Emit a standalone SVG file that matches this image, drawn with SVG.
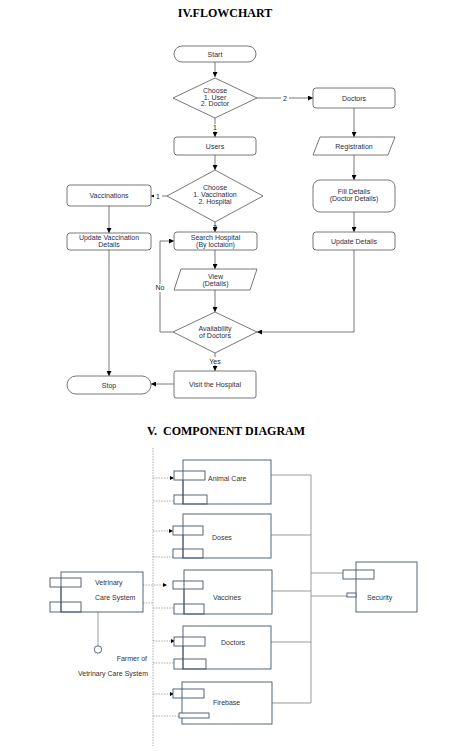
<svg xmlns="http://www.w3.org/2000/svg" width="463" height="751" viewBox="0 0 463 751">
<style>
.title{font-family:"Liberation Serif",serif;font-weight:bold;font-size:12px;fill:#000}
.fs{fill:#fff;stroke:#555;stroke-width:0.8}
.ft{font-family:"Liberation Sans",Arial,sans-serif;font-size:7px;fill:#1f2d4d;text-anchor:middle}
.fl{fill:none;stroke:#555;stroke-width:0.8}
.lbl{font-family:"Liberation Sans",Arial,sans-serif;font-size:7px;fill:#222;text-anchor:middle}
.cb{fill:#fff;stroke:#44546a;stroke-width:0.9}
.cn{fill:none;stroke:#44546a;stroke-width:0.9}
.ct{font-family:"Liberation Sans",Arial,sans-serif;font-size:7px;fill:#333}
.dot{fill:none;stroke:#888;stroke-width:0.7;stroke-dasharray:1.5,1.2}
.sl{fill:none;stroke:#9a9a9a;stroke-width:1}
</style>
<defs>
<marker id="ah" viewBox="0 0 6 6" refX="6" refY="3" markerWidth="5" markerHeight="5" orient="auto" markerUnits="userSpaceOnUse">
<path d="M0,0 L6,3 L0,6 z" fill="#000"/>
</marker>
<marker id="ah2" viewBox="0 0 6 6" refX="6" refY="3" markerWidth="4" markerHeight="4" orient="auto" markerUnits="userSpaceOnUse">
<path d="M0,0 L6,3 L0,6 z" fill="#000"/>
</marker>
</defs>
<rect width="463" height="751" fill="#fff"/>

<text class="title" x="225" y="17" text-anchor="middle">IV.FLOWCHART</text>

<g id="connectors">
<path class="fl" d="M215,62 V77" marker-end="url(#ah)"/>
<path class="fl" d="M257,98 H313" marker-end="url(#ah)"/>
<path class="fl" d="M215,118 V137" marker-end="url(#ah)"/>
<path class="fl" d="M215,155 V170" marker-end="url(#ah)"/>
<path class="fl" d="M167,196 H151" marker-end="url(#ah)"/>
<path class="fl" d="M215,222 V232" marker-end="url(#ah)"/>
<path class="fl" d="M109,206 V233" marker-end="url(#ah)"/>
<path class="fl" d="M109,250 V376" marker-end="url(#ah)"/>
<path class="fl" d="M215,250 V269" marker-end="url(#ah)"/>
<path class="fl" d="M215,290 V312" marker-end="url(#ah)"/>
<path class="fl" d="M354,108 V137" marker-end="url(#ah)"/>
<path class="fl" d="M354,155 V180" marker-end="url(#ah)"/>
<path class="fl" d="M354,212 V232" marker-end="url(#ah)"/>
<path class="fl" d="M354,250 V332 H257" marker-end="url(#ah)"/>
<path class="fl" d="M173,332 H160 V241 H174" marker-end="url(#ah)"/>
<path class="fl" d="M215,353 V371" marker-end="url(#ah)"/>
<path class="fl" d="M174,384 H151" marker-end="url(#ah)"/>
<rect x="281" y="94" width="8" height="8" fill="#fff"/>
<text class="lbl" x="285" y="100.5">2</text>
<rect x="211" y="124" width="8" height="7" fill="#fff"/>
<text class="lbl" x="215" y="130">1</text>
<rect x="154" y="192" width="8" height="8" fill="#fff"/>
<text class="lbl" x="158" y="198.5">1</text>
<text class="lbl" x="215" y="229.5">2</text>
<rect x="153" y="284" width="14" height="8" fill="#fff"/>
<text class="lbl" x="160" y="290">No</text>
<rect x="206" y="357" width="18" height="8" fill="#fff"/>
<text class="lbl" x="215" y="364">Yes</text>

<path class="dot" d="M153,448 V746"/>
<path class="dot" d="M153,478 H174" marker-end="url(#ah2)"/>
<path class="dot" d="M153,501 H174"/>
<path class="dot" d="M153,531 H173" marker-end="url(#ah2)"/>
<path class="dot" d="M153,557 H173"/>
<path class="dot" d="M143,585 H167" marker-end="url(#ah2)"/>
<path class="dot" d="M143,603 H153"/>
<path class="dot" d="M153,608 H174"/>
<path class="dot" d="M153,641 H175" marker-end="url(#ah2)"/>
<path class="dot" d="M153,663 H174"/>
<path class="dot" d="M153,694 H174" marker-end="url(#ah2)"/>
<path class="dot" d="M153,716 H179"/>
<path class="sl" d="M311,475 V703"/>
<path class="sl" d="M271,475 H311"/>
<path class="sl" d="M271,535 H311"/>
<path class="sl" d="M272,591 H311"/>
<path class="sl" d="M271,642 H311"/>
<path class="sl" d="M272,703 H311"/>
<path class="sl" d="M311,573 H343"/>
<path class="sl" d="M311,596 H347"/>
<path class="sl" d="M98,612 V646"/>
</g>

<g id="start"><rect class="fs" x="174" y="46" width="82" height="16" rx="8"/><text class="ft" x="215" y="56.5">Start</text></g>
<g id="choose1"><path class="fs" d="M215,78 L257,98 L215,118 L173,98 Z"/><text class="ft" x="215" y="93">Choose</text><text class="ft" x="215" y="99.5">1. User</text><text class="ft" x="215" y="106">2. Doctor</text></g>
<g id="doctors"><rect class="fs" x="313" y="88" width="82" height="20" rx="3"/><text class="ft" x="354" y="100.5">Doctors</text></g>
<g id="users"><rect class="fs" x="174" y="137" width="82" height="18" rx="3"/><text class="ft" x="215" y="148.5">Users</text></g>
<g id="registration"><path class="fs" d="M320,137 H395 L388,155 H313 Z"/><text class="ft" x="354" y="148.5">Registration</text></g>
<g id="choose2"><path class="fs" d="M215,170 L263,196 L215,222 L167,196 Z"/><text class="ft" x="215" y="190">Choose</text><text class="ft" x="215" y="197">1. Vaccination</text><text class="ft" x="215" y="204">2. Hospital</text></g>
<g id="vaccinations"><rect class="fs" x="67" y="185" width="84" height="21" rx="3"/><text class="ft" x="109" y="198">Vaccinations</text></g>
<g id="fill-details"><rect class="fs" x="313" y="180" width="82" height="32" rx="7"/><text class="ft" x="354" y="194">Fill Details</text><text class="ft" x="354" y="201">(Doctor Details)</text></g>
<g id="update-details"><rect class="fs" x="313" y="232" width="82" height="18" rx="3"/><text class="ft" x="354" y="243.5">Update Details</text></g>
<g id="update-vaccination"><rect class="fs" x="67" y="233" width="84" height="17" rx="3"/><text class="ft" x="109" y="240">Update Vaccination</text><text class="ft" x="109" y="247">Details</text></g>
<g id="search-hospital"><rect class="fs" x="174" y="232" width="83" height="18" rx="3"/><text class="ft" x="215.5" y="239.5">Search Hospital</text><text class="ft" x="215.5" y="246.5">(By loctaion)</text></g>
<g id="view"><path class="fs" d="M181,269 H257 L250,290 H174 Z"/><text class="ft" x="215.5" y="279">View</text><text class="ft" x="215.5" y="286">(Details)</text></g>
<g id="availability"><path class="fs" d="M215,312 L257,332 L215,353 L173,332 Z"/><text class="ft" x="215" y="331">Availability</text><text class="ft" x="215" y="338">of Doctors</text></g>
<g id="visit"><rect class="fs" x="174" y="371" width="82" height="27" rx="2"/><text class="ft" x="215" y="387">Visit the Hospital</text></g>
<g id="stop"><rect class="fs" x="67" y="376" width="84" height="18" rx="9"/><text class="ft" x="109" y="387.5">Stop</text></g>

<text class="title" x="226" y="435" text-anchor="middle" xml:space="preserve">V.  COMPONENT DIAGRAM</text>

<g id="animal-care"><rect class="cb" x="183" y="460" width="88" height="44"/><rect class="cb" x="174" y="471" width="31" height="9"/><rect class="cn" x="174" y="495" width="33" height="9"/><line class="cn" x1="183" y1="471" x2="183" y2="504"/><text class="ct" x="208" y="481">Animal Care</text></g>
<g id="doses"><rect class="cb" x="183" y="514" width="88" height="44"/><rect class="cb" x="173" y="526" width="30" height="9"/><rect class="cn" x="173" y="549" width="30" height="9"/><line class="cn" x1="183" y1="526" x2="183" y2="558"/><text class="ct" x="212" y="540">Doses</text></g>
<g id="vaccines"><rect class="cb" x="184" y="570" width="88" height="44"/><rect class="cb" x="173" y="581" width="30" height="8"/><rect class="cn" x="174" y="604" width="30" height="10"/><line class="cn" x1="184" y1="581" x2="184" y2="614"/><text class="ct" x="213" y="600">Vaccines</text></g>
<g id="doctors-comp"><rect class="cb" x="183" y="626" width="88" height="43"/><rect class="cb" x="174" y="637" width="31" height="9"/><rect class="cn" x="174" y="659" width="32" height="10"/><line class="cn" x1="183" y1="637" x2="183" y2="669"/><text class="ct" x="221" y="645">Doctors</text></g>
<g id="firebase"><rect class="cb" x="182" y="682" width="90" height="42"/><rect class="cb" x="173" y="689" width="31" height="9"/><rect class="cb" x="179" y="713" width="30" height="5"/><line class="cn" x1="182" y1="689" x2="182" y2="698"/><text class="ct" x="213" y="705">Firebase</text></g>
<g id="security"><rect class="cb" x="356" y="562" width="61" height="50"/><rect class="cb" x="343" y="570" width="31" height="9"/><rect class="cb" x="347" y="593" width="9" height="4"/><line class="cn" x1="356" y1="570" x2="356" y2="579"/><text class="ct" x="367" y="600">Security</text></g>
<g id="vetrinary"><rect class="cb" x="61" y="572" width="82" height="40"/><rect class="cb" x="50" y="578" width="31" height="9"/><rect class="cn" x="50" y="602" width="31" height="10"/><line class="cn" x1="61" y1="578" x2="61" y2="612"/><text class="ct" x="95" y="585">Vetrinary</text><text class="ct" x="95" y="600">Care System</text></g>
<g id="farmer"><circle cx="98" cy="649.5" r="3.7" fill="#fff" stroke="#44546a" stroke-width="0.9"/><text class="ct" x="147" y="661" text-anchor="end">Farmer of</text><text class="ct" x="148" y="676" text-anchor="end">Vetrinary Care System</text></g>
</svg>
